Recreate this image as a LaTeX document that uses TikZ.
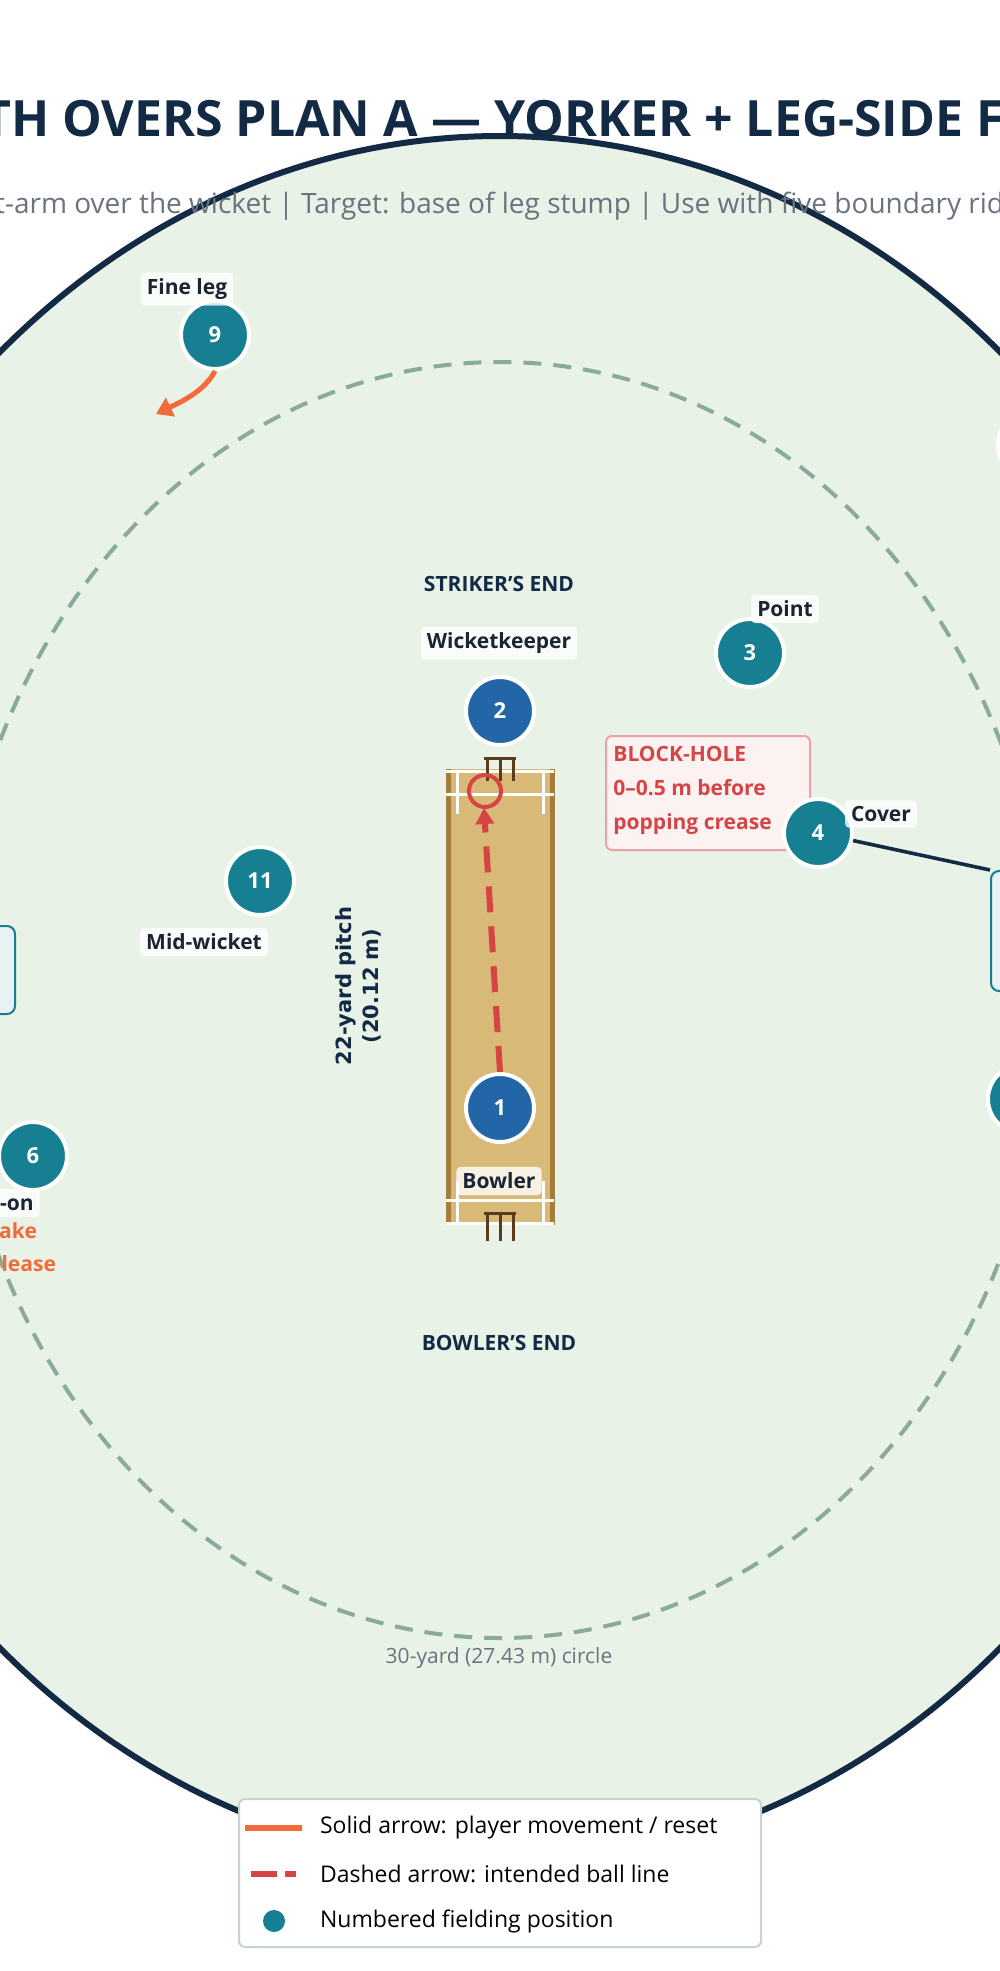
\documentclass[tikz,border=0pt]{standalone}
\usepackage{fontspec}
\setmainfont{Open Sans}
\newfontfamily\djv{DejaVu Sans}
\usetikzlibrary{arrows.meta}
\definecolor{navy}{HTML}{132A45}
\definecolor{grass}{HTML}{E8F2E6}
\definecolor{ring}{HTML}{8AAA9C}
\definecolor{teal}{HTML}{167F91}
\definecolor{blu}{HTML}{2266A8}
\definecolor{redx}{HTML}{D64545}
\definecolor{orng}{HTML}{F26B38}
\definecolor{pitchc}{HTML}{D9B978}
\definecolor{pitchb}{HTML}{A47C3C}
\definecolor{stump}{HTML}{5A3C1C}
\definecolor{txt}{HTML}{1B2433}
\definecolor{subg}{HTML}{6B7280}
\begin{document}
\begin{tikzpicture}[x=0.5pt,y=-0.5pt,
  fielder/.style={circle,draw=white,line width=2pt,fill=teal,minimum size=34pt,inner sep=0pt,text=white,font=\fontsize{11}{13}\selectfont\bfseries},
  keep/.style={fielder,fill=blu},
  lbl/.style={fill=white,fill opacity=0.8,text opacity=1,rounded corners=2pt,inner sep=3pt,text=txt,font=\fontsize{10.5}{13}\selectfont\bfseries},
  endl/.style={text=navy,font=\fontsize{10.5}{13}\selectfont\bfseries},
  crease/.style={white,line width=1.5pt},
  stp/.style={stump,line width=1.5pt},
  leg/.style={anchor=west,text=black,font=\fontsize{11.5}{14}\selectfont}]
\useasboundingbox (0,0) rectangle (1000,1971);
\clip (0,0) rectangle (1000,1971);
\fill[white] (0,0) rectangle (1000,1971);
% boundary
\draw[navy,fill=grass,line width=3pt] (500,1000) ellipse [x radius=756,y radius=864];
\draw[ring,line width=2pt,dash pattern=on 9pt off 6pt] (500,1000) ellipse [x radius=547,y radius=638];
\node[text=subg,font=\fontsize{10.5}{13}\selectfont] (ringl) at (499,1658) {30-yard (27.43 m) circle};
% title
\node[text=navy,font=\fontsize{25}{29}\selectfont\bfseries] (title) at (500,119) {DEATH OVERS PLAN A — YORKER + LEG-SIDE FIELD};
\node[text=subg,font=\fontsize{14}{17}\selectfont] (sub) at (500,206) {Left-arm over the wicket | Target: base of leg stump | Use with five boundary riders};
% pitch
\fill[pitchc] (446,769) rectangle (554,1225);
\draw[pitchb,line width=2.5pt] (448,769) -- (448,1225) (552,769) -- (552,1225);
\draw[crease] (446,771) -- (554,771) (446,794) -- (554,794) (457,771) -- (457,814) (543,771) -- (543,814);
\draw[crease] (446,1223) -- (554,1223) (446,1200) -- (554,1200) (457,1181) -- (457,1225) (543,1181) -- (543,1225);
\draw[stp] (484,758) -- (516,758) (487,758) -- (487,781) (500,758) -- (500,781) (513,758) -- (513,781);
\draw[stp] (484,1213) -- (516,1213) (487,1213) -- (487,1241) (500,1213) -- (500,1241) (513,1213) -- (513,1241);
\node[endl] (strk) at (499,584) {STRIKER'S END};
\node[endl] (bowl) at (499,1343) {BOWLER'S END};
\node[text=navy,font=\djv\fontsize{10.5}{13.5}\selectfont\bfseries,rotate=90,align=center] (plen) at (358,986) {22-yard pitch\\(20.12 m)};
% block hole
\node[draw=redx!50,fill=redx!7,line width=1pt,rounded corners=3pt,minimum width=102pt,minimum height=57pt,inner sep=0pt] (bh) at (708,793) {};
\node[anchor=north west,align=left,text=redx,font=\fontsize{10.5}{17}\selectfont\bfseries,inner sep=0pt] (bht) at (613,746) {BLOCK-HOLE\\0–0.5 m before\\popping crease};
% boxes at edges
\node[draw=teal,fill=teal!10,line width=1pt,rounded corners=4pt,minimum width=60pt,minimum height=44pt] (lbox) at (-45,970) {};
\node[anchor=east,text=black,font=\fontsize{10.5}{13}\selectfont\bfseries] (lboxt) at (8,985) {Deep square};
\node[draw=teal,fill=teal!10,line width=1pt,rounded corners=4pt,minimum width=60pt,minimum height=60pt] (rbox) at (1051,931) {};
% fielders
\node[fielder] (f9) at (215,335) {9};
\node[keep] (f2) at (500,711) {2};
\node[keep] (f1) at (500,1108) {1};
\node[fielder] (f3) at (750,653) {3};
\node[fielder] (f4) at (818,833) {4};
\node[fielder] (f11) at (260,881) {11};
\node[fielder] (f6) at (33,1156) {6};
\node[fielder] (f7) at (1022,1099) {7};
\node[fielder] (f5) at (1032,445) {5};
\draw[navy,line width=1.8pt] (f4) -- (rbox.north west);
% labels
\node[lbl] (l9) at (187,289) {Fine leg};
\node[lbl] (l2) at (499,643) {Wicketkeeper};
\node[lbl] (l3) at (785,609) {Point};
\node[lbl] (l4) at (881,814) {Cover};
\node[lbl] (l11) at (204,942) {Mid-wicket};
\node[lbl,fill=white] (l1) at (499,1181) {Bowler};
\node[lbl,anchor=east] (l6) at (40,1203) {Mid-on};
\node[anchor=east,text=orng,font=\fontsize{10.5}{13}\selectfont\bfseries] (o1) at (44,1231) {fake};
\node[anchor=east,text=orng,font=\fontsize{10.5}{13}\selectfont\bfseries] (o2) at (63,1264) {release};
% arrows
\coordinate (tgt) at (485,791);
\draw[redx,line width=2pt] (tgt) circle (8pt);
\draw[redx,line width=3pt,dash pattern=on 13pt off 7pt,-{Triangle[length=8pt,width=9pt]}] (f1.north) -- (484,808);
\coordinate (f9to) at (156,414);
\draw[orng,line width=2.5pt,-{Triangle[length=8pt,width=10pt]}] (f9.south) .. controls (205,390) and (185,400) .. (f9to);
% legend
\node[draw=ring!50,fill=white,line width=1pt,rounded corners=3pt,minimum width=261pt,minimum height=74pt,inner sep=0pt] (legbox) at (500,1873) {};
\coordinate (la) at (245,1828); \coordinate (lb) at (302,1828);
\draw[orng,line width=3pt] (la) -- (lb);
\coordinate (lc) at (251,1874); \coordinate (ld) at (296,1874);
\draw[redx,line width=3pt,dash pattern=on 13pt off 4pt on 6pt off 10pt] (lc) -- (ld);
\node[circle,fill=teal,minimum size=11pt,inner sep=0pt] (ldot) at (274,1921) {};
\node[leg] (lt1) at (313,1828) {Solid arrow: player movement / reset};
\node[leg] (lt2) at (313,1874) {Dashed arrow: intended ball line};
\node[leg] (lt3) at (313,1921) {Numbered fielding position};
\end{tikzpicture}
\end{document}
